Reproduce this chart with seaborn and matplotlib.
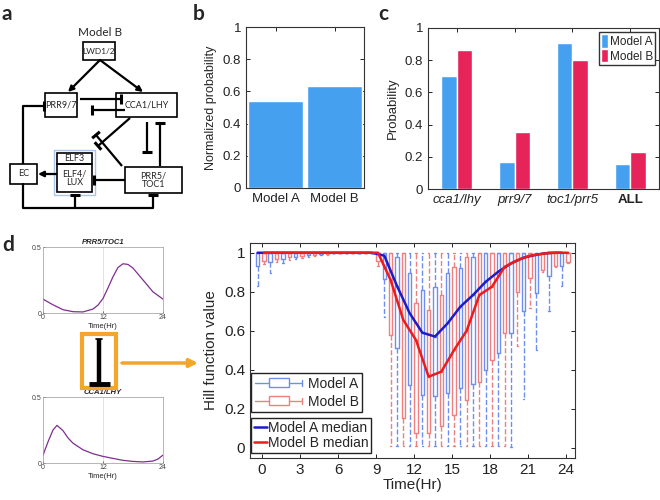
import numpy as np
import pandas as pd
import matplotlib
matplotlib.use('Agg')
import matplotlib.pyplot as plt
import seaborn as sns
from matplotlib.patches import Rectangle
from matplotlib.lines import Line2D
from matplotlib.legend_handler import HandlerBase

sns.set_style('ticks')
plt.rcParams['font.family'] = ['Liberation Sans', 'DejaVu Sans']

BLUE = '#45a1ef'
RED = '#e7245a'
BOX_A = '#6f8ff0'
BOX_B = '#f0807f'
MED_A = '#1c1cc8'
MED_B = '#ec1c1c'
PURPLE = '#7e2f8e'
ORANGE = '#f5a52a'

# panel b
models = ['Model A', 'Model B']
norm_prob = [0.54, 0.635]

# panel c
genes = ['cca1/lhy', 'prr9/7', 'toc1/prr5', 'ALL']
prob_a = [0.704, 0.17, 0.905, 0.153]
prob_b = [0.862, 0.352, 0.803, 0.228]

# panel d small curves
t_prr = [0, 2, 4, 6, 8, 10, 11, 12, 13, 14, 15, 16, 17, 18, 19, 20, 22, 24]
prr_toc = [0.105, 0.062, 0.025, 0.01, 0.008, 0.03, 0.06, 0.11, 0.19, 0.275, 0.345, 0.373, 0.368, 0.34, 0.295, 0.25, 0.16, 0.105]
t_cca = [0, 1, 2, 2.8, 4, 5, 6, 8, 10, 12, 14, 16, 18, 20, 22, 23, 24]
cca_lhy = [0.06, 0.16, 0.25, 0.285, 0.245, 0.19, 0.15, 0.10, 0.07, 0.05, 0.035, 0.02, 0.012, 0.008, 0.015, 0.03, 0.06]

# panel d boxes, one per hour and model: whisker low, q1, median, q3, whisker high
hours = list(range(25))
a_lo = [0.83, 0.895, 0.945, 0.968, 0.98, 0.99, 0.997, 1, 1, 1, 0.672, 0.01, 0.01, 0.01, 0.01, 0.01, 0.01, 0.01, 0.01, 0.01, 0.005, 0.25, 0.50, 0.70, 0.83]
a_q1 = [0.93, 0.955, 0.97, 0.98, 0.988, 0.994, 0.998, 1, 1, 1, 0.863, 0.509, 0.321, 0.270, 0.265, 0.279, 0.304, 0.326, 0.398, 0.484, 0.586, 0.70, 0.795, 0.88, 0.93]
a_med = [1, 1, 1, 1, 1, 1, 1, 1, 1, 1, 0.985, 0.83, 0.69, 0.59, 0.57, 0.638, 0.723, 0.783, 0.851, 0.903, 0.945, 0.975, 0.99, 1, 1]
a_q3 = [1, 1, 1, 1, 1, 1, 1, 1, 1, 1, 1, 0.98, 0.894, 0.809, 0.826, 0.894, 0.92, 0.979, 1, 1, 1, 1, 1, 1, 1]
a_hi = [1, 1, 1, 1, 1, 1, 1, 1, 1, 1, 1, 1, 1, 1, 1, 1, 1, 1, 1, 1, 1, 1, 1, 1, 1]
b_lo = [0.94, 0.95, 0.962, 0.975, 0.985, 0.99, 0.997, 1, 1, 0.93, 0.01, 0.01, 0.01, 0.01, 0.01, 0.01, 0.01, 0.01, 0.01, 0.01, 0.52, 0.715, 0.90, 0.925, 0.945]
b_q1 = [0.96, 0.966, 0.976, 0.985, 0.99, 0.995, 0.998, 1, 1, 0.96, 0.578, 0.150, 0.077, 0.074, 0.111, 0.168, 0.244, 0.338, 0.450, 0.586, 0.80, 0.87, 0.91, 0.93, 0.95]
b_med = [1, 1, 1, 1, 1, 1, 1, 1, 1, 1, 0.86, 0.655, 0.552, 0.364, 0.39, 0.50, 0.60, 0.783, 0.826, 0.928, 0.962, 0.985, 0.995, 1, 1]
b_q3 = [1, 1, 1, 1, 1, 1, 1, 1, 1, 1, 1, 1, 0.74, 0.706, 0.783, 0.928, 0.979, 1, 1, 1, 1, 1, 1, 1, 1]
b_hi = [1, 1, 1, 1, 1, 1, 1, 1, 1, 1, 1, 1, 1, 1, 1, 1, 1, 1, 1, 1, 1, 1, 1, 1, 1]

a_pos = [h - 0.35 for h in hours]
b_pos = [h + 0.15 for h in hours]

rows = []
for i in range(len(hours)):
    for v in (a_lo[i], a_q1[i], a_med[i], a_q3[i], a_hi[i]):
        rows.append((a_pos[i], v, 'Model A'))
    for v in (b_lo[i], b_q1[i], b_med[i], b_q3[i], b_hi[i]):
        rows.append((b_pos[i], v, 'Model B'))
df_box = pd.DataFrame(rows, columns=['pos', 'val', 'model'])

fig = plt.figure(figsize=(6.6, 5), dpi=100)
W, H = 660.0, 500.0


def px_axes(l, t, r, b):
    return fig.add_axes([l / W, 1 - b / H, (r - l) / W, (b - t) / H])


def matlab_box(ax, size):
    ax.tick_params(direction='in', top=True, right=True, length=3, width=0.7,
                   labelsize=size, colors='#222222')
    for s in ax.spines.values():
        s.set_linewidth(0.8)
        s.set_color('#333333')


# ---- panel b
axb = px_axes(246, 27, 364, 188)
sns.barplot(x=models, y=norm_prob, color=BLUE, saturation=1, width=0.92, ax=axb)
axb.set_xlim(-0.5, 1.5)
axb.set_ylim(0, 1)
axb.set_yticks([0, 0.2, 0.4, 0.6, 0.8, 1])
axb.set_yticklabels(['0', '0.2', '0.4', '0.6', '0.8', '1'])
axb.set_ylabel('Normalized probability', fontsize=9)
matlab_box(axb, 9.5)

# ---- panel c
df_c = pd.DataFrame({'gene': genes * 2, 'prob': prob_a + prob_b,
                     'model': ['Model A'] * 4 + ['Model B'] * 4})
axc = px_axes(428, 28, 659, 189)
sns.barplot(data=df_c, x='gene', y='prob', hue='model', palette=[BLUE, RED],
            saturation=1, width=0.54, ax=axc)
axc.set_xlim(-0.5, 3.5)
axc.set_ylim(0, 1)
axc.set_yticks([0, 0.2, 0.4, 0.6, 0.8, 1])
axc.set_yticklabels(['0', '0.2', '0.4', '0.6', '0.8', '1'])
axc.set_xlabel('')
axc.set_ylabel('Probability', fontsize=9.5)
matlab_box(axc, 9.5)
for lab in axc.get_xticklabels():
    if lab.get_text() == 'ALL':
        lab.set_fontweight('bold')
    else:
        lab.set_fontstyle('italic')
hc, lc = axc.get_legend_handles_labels()
axc.legend(hc, lc, loc='upper right', fontsize=8.5, frameon=True, fancybox=False,
           edgecolor='#333333', framealpha=1, handlelength=0.6, handleheight=1.4,
           handletextpad=0.15, borderpad=0.2, labelspacing=0.1, borderaxespad=0.3)

# ---- panel d small plots
def small_plot(ax, t, y, title):
    sns.lineplot(x=t, y=y, color=PURPLE, lw=0.9, ax=ax)
    ax.axvline(12, color='#dddddd', lw=0.6, zorder=0)
    ax.set_xlim(0, 24)
    ax.set_ylim(0, 0.5)
    ax.set_xticks([0, 12, 24])
    ax.set_yticks([0, 0.5])
    ax.set_yticklabels(['0', '0.5'])
    ax.tick_params(direction='in', length=1.5, width=0.5, labelsize=5, pad=1, colors='#444444')
    for s in ax.spines.values():
        s.set_linewidth(0.5)
        s.set_color('#999999')
    ax.set_title(title, fontsize=5.5, fontweight='bold', fontstyle='italic', pad=2)
    ax.set_xlabel('Time(Hr)', fontsize=5.5, labelpad=1)


ax_s1 = px_axes(43, 247, 163, 313)
small_plot(ax_s1, t_prr, prr_toc, 'PRR5/TOC1')
ax_s2 = px_axes(43, 397, 163, 463)
small_plot(ax_s2, t_cca, cca_lhy, 'CCA1/LHY')

# ---- panel d main
axd = px_axes(250, 243, 575, 458)
sns.boxplot(data=df_box, x='pos', y='val', hue='model', palette=[BOX_A, BOX_B],
            native_scale=True, dodge=False, fill=False, whis=(0, 100), width=0.56,
            linewidth=1, whiskerprops={'linestyle': '--'}, capwidths=0.12,
            legend=False, ax=axd)
sns.lineplot(x=a_pos, y=a_med, color=MED_A, lw=1.8, ax=axd, zorder=5)
sns.lineplot(x=b_pos, y=b_med, color=MED_B, lw=1.8, ax=axd, zorder=5)
axd.set_xlim(-0.95, 24.7)
axd.set_ylim(-0.053, 1.05)
axd.set_xticks(range(0, 25, 3))
axd.set_yticks([0, 0.2, 0.4, 0.6, 0.8, 1])
axd.set_yticklabels(['0', '0.2', '0.4', '0.6', '0.8', '1'])
axd.set_xlabel('Time(Hr)', fontsize=11, labelpad=1)
axd.set_ylabel('Hill function value', fontsize=11)
matlab_box(axd, 11)


class BoxGlyph(HandlerBase):
    def create_artists(self, legend, orig, xd, yd, w, h, fs, trans):
        c = orig.get_color()
        x0 = -xd
        y = (h - yd) / 2
        arts = [Line2D([x0, x0 + 0.3 * w], [y, y], color=c, lw=1),
                Rectangle((x0 + 0.3 * w, y - 0.45 * h), 0.42 * w, 0.9 * h,
                          fill=False, ec=c, lw=1),
                Line2D([x0 + 0.72 * w, x0 + w], [y, y], color=c, lw=1),
                Line2D([x0 + w, x0 + w], [y - 0.3 * h, y + 0.3 * h], color=c, lw=1)]
        for a in arts:
            a.set_transform(trans)
        return arts


hA = Line2D([], [], color=BOX_A)
hB = Line2D([], [], color=BOX_B)
leg1 = axd.legend([hA, hB], ['Model A', 'Model B'], handler_map={hA: BoxGlyph(), hB: BoxGlyph()},
                  loc='upper left', bbox_to_anchor=(0.004, 0.395), borderaxespad=0,
                  fontsize=10, fancybox=False, edgecolor='#222222', framealpha=1,
                  handlelength=3.4, handletextpad=0.4, borderpad=0.25, labelspacing=0.3)
axd.add_artist(leg1)
mA = Line2D([], [], color=MED_A, lw=1.8)
mB = Line2D([], [], color=MED_B, lw=1.8)
axd.legend([mA, mB], ['Model A median', 'Model B median'], loc='upper left',
           bbox_to_anchor=(0.004, 0.186), borderaxespad=0, fontsize=10, fancybox=False,
           edgecolor='#222222', framealpha=1, handlelength=0.9, handletextpad=0.1,
           borderpad=0.2, labelspacing=0.1)

# ---- overlay: network diagram, letters, arrows
ov = fig.add_axes([0, 0, 1, 1])
ov.set_xlim(0, W)
ov.set_ylim(H, 0)
ov.axis('off')
ov.patch.set_visible(False)

DFONT = ['Lato', 'DejaVu Sans']
LW = 1.6


def node(x0, y0, x1, y1, text, ec='black', lw=1.2, size=6.5):
    ov.add_patch(Rectangle((x0, y0), x1 - x0, y1 - y0, fill=False, ec=ec, lw=lw))
    if text:
        ov.text((x0 + x1) / 2, (y0 + y1) / 2, text, ha='center', va='center',
                fontsize=size, family=DFONT, linespacing=0.95)


def inhib(pts, bar=10):
    xs = [p[0] for p in pts]
    ys = [p[1] for p in pts]
    ov.plot(xs, ys, color='k', lw=LW, solid_capstyle='butt')
    (x0, y0), (x1, y1) = pts[-2], pts[-1]
    d = np.hypot(x1 - x0, y1 - y0)
    nx, ny = -(y1 - y0) / d, (x1 - x0) / d
    ov.plot([x1 - nx * bar / 2, x1 + nx * bar / 2], [y1 - ny * bar / 2, y1 + ny * bar / 2],
            color='k', lw=LW + 0.6, solid_capstyle='butt')


def arrow(x0, y0, x1, y1, color='k', lw=LW, ms=8):
    ov.annotate('', xy=(x1, y1), xytext=(x0, y0),
                arrowprops=dict(arrowstyle='-|>', color=color, lw=lw, mutation_scale=ms,
                                shrinkA=0, shrinkB=0))


ov.text(100, 33, 'Model B', ha='center', va='center', fontsize=8.5, family=DFONT)
node(83, 42, 115, 60, 'LWD1/2', size=6)
node(45, 93, 77, 117, 'PRR9/7')
node(116, 93, 177, 117, 'CCA1/LHY')
node(10, 164, 37, 184, 'EC')
node(54, 150, 95, 195, '', ec='#a9c6e6', lw=1.0)
node(57, 153, 92, 164, 'ELF3')
node(57, 164, 92, 192, 'ELF4/\nLUX')
node(125, 167, 182, 193, 'PRR5/\nTOC1')

arrow(100, 60, 68, 92)
arrow(100, 60, 143, 92)
inhib([(80, 99), (121, 99)])
inhib([(125, 110), (92, 110)])
inhib([(147, 122), (147, 152)])
inhib([(160, 166), (160, 123)])
inhib([(130, 118), (98, 146)])
inhib([(122, 166), (96, 135)])
arrow(56, 174, 38, 174)
inhib([(125, 180), (94, 180)])
inhib([(23, 164), (23, 106), (44, 106)])
ov.plot([23, 23, 153], [184, 208, 208], color='k', lw=LW)
inhib([(75, 208), (75, 195)])
inhib([(153, 208), (153, 195)])

# orange box with the repression symbol
ov.add_patch(Rectangle((82, 334), 34, 54, fill=False, ec=ORANGE, lw=3))
ov.plot([99, 99], [339, 384], color='k', lw=3.2, solid_capstyle='butt')
ov.plot([96, 102], [339, 339], color='k', lw=1.2)
ov.plot([89, 110], [384, 384], color='k', lw=3.5, solid_capstyle='butt')
arrow(122, 363, 198, 363, color=ORANGE, lw=2.5, ms=12)

for letter, x, y in [('a', 2, 14), ('b', 193, 14), ('c', 378, 14), ('d', 2, 245)]:
    ov.text(x, y, letter, fontsize=15, fontweight='bold', family=DFONT, va='center', ha='left')

fig.savefig('out.png', dpi=100)
